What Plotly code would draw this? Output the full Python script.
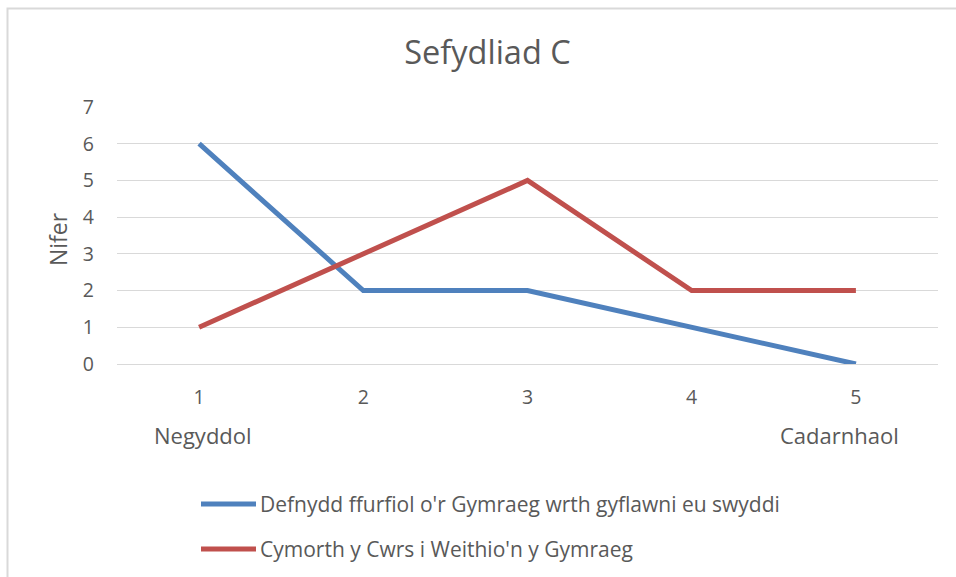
import plotly.graph_objects as go

categories = [1, 2, 3, 4, 5]
series_names = [
    "Defnydd ffurfiol o'r Gymraeg wrth gyflawni eu swyddi",
    "Cymorth y Cwrs i Weithio'n y Gymraeg",
]
series_values = [
    [6, 2, 2, 1, 0],
    [1, 3, 5, 2, 2],
]
colors = ["#4f81bd", "#c0504d"]
end_labels = ["Negyddol", "Cadarnhaol"]
y_ticks = [0, 1, 2, 3, 4, 5, 6, 7]

W, H = 956, 577
L, R, T, B = 117, 18, 107, 213
pw, ph = W - L - R, H - T - B
FONT = "'Open Sans', Lato, sans-serif"
TXT = "#595959"

def px(x):
    return (x - L) / pw

def py(y):
    return (H - B - y) / ph

fig = go.Figure()
for name, vals, col in zip(series_names, series_values, colors):
    fig.add_trace(go.Scatter(x=categories, y=vals, mode="lines", name=name,
                             line=dict(color=col, width=5), showlegend=False))

shapes = [
    dict(type="rect", xref="paper", yref="paper", x0=px(7.5), y0=py(600),
         x1=px(1000), y1=py(8.5), line=dict(color="#d9d9d9", width=2),
         fillcolor="rgba(0,0,0,0)", layer="below"),
]
annotations = [
    dict(text="Nifer", xref="paper", yref="paper", x=px(58), y=py(239),
         xanchor="center", yanchor="middle",
         textangle=-90, showarrow=False, font=dict(size=23, color=TXT, family=FONT)),
    dict(text=end_labels[0], xref="x", yref="paper", x=categories[0], xshift=4,
         y=py(435), xanchor="center", yanchor="middle",
         showarrow=False, font=dict(size=22, color=TXT, family=FONT)),
    dict(text=end_labels[1], xref="x", yref="paper", x=categories[-1], xshift=-16,
         y=py(435), xanchor="center", yanchor="middle",
         showarrow=False, font=dict(size=22, color=TXT, family=FONT)),
]
leg_y = [504, 549]
for name, col, ly in zip(series_names, colors, leg_y):
    shapes.append(dict(type="line", xref="paper", yref="paper", x0=px(201), x1=px(256),
                       y0=py(ly), y1=py(ly), line=dict(color=col, width=5)))
    annotations.append(dict(text=name, xref="paper", yref="paper", x=px(258), y=py(ly),
                            xanchor="left", yanchor="middle", showarrow=False,
                            font=dict(size=21, color=TXT, family=FONT)))

fig.update_layout(
    width=W, height=H,
    margin=dict(l=L, r=R, t=T, b=B),
    paper_bgcolor="white", plot_bgcolor="white",
    title=dict(text="Sefydliad C", x=487.5 / W, xanchor="center", y=1 - 53 / H,
               yanchor="middle", font=dict(size=32.5, color=TXT, family=FONT)),
    xaxis=dict(range=[0.5, 5.5], tickvals=categories, ticktext=[str(c) for c in categories],
               showgrid=False, zeroline=False, showline=False, ticks="",
               ticklabelstandoff=19, tickfont=dict(size=19.5, color=TXT, family=FONT),
               fixedrange=True),
    yaxis=dict(range=[0, 7], tickvals=y_ticks, showgrid=True, gridcolor="#d9d9d9",
               gridwidth=1.3, zeroline=True, zerolinecolor="#d9d9d9", zerolinewidth=1.3,
               showline=False, ticks="",
               ticklabelstandoff=22, tickfont=dict(size=19.5, color=TXT, family=FONT),
               fixedrange=True),
    shapes=shapes, annotations=annotations, showlegend=False,
)
fig.write_html("out.html", config={"displayModeBar": False},
               post_script="document.body.style.margin='0';")
